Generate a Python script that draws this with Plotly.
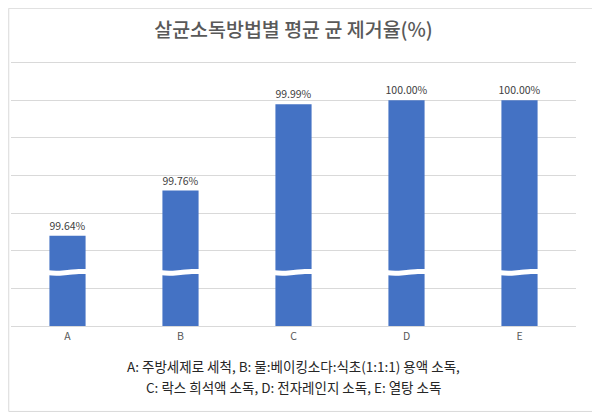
import plotly.graph_objects as go

categories = ['A', 'B', 'C', 'D', 'E']
removal_rate = [99.64, 99.76, 99.99, 100.00, 100.00]
labels = ['99.64%', '99.76%', '99.99%', '100.00%', '100.00%']
title = '살균소독방법별 평균 균 제거율(%)'
note_lines = ['A: 주방세제로 세척, B: 물:베이킹소다:식초(1:1:1) 용액 소독,',
              'C: 락스 희석액 소독, D: 전자레인지 소독, E: 열탕 소독']

font_kr = 'Noto Sans CJK KR'
xs = list(range(len(categories)))
y_min = 99.4

fig = go.Figure()
fig.add_trace(go.Bar(
    x=xs, y=[v - y_min for v in removal_rate], base=y_min, width=0.32,
    marker=dict(color='#4472C4', line=dict(width=0)),
    text=labels, textposition='outside', cliponaxis=False, constraintext='none',
    textfont=dict(size=10.5, color='#404040', family=font_kr),
    showlegend=False, hoverinfo='skip',
))

# broken-axis marks: white wavy strip across each bar
break_y = 99.542
for i in xs:
    fig.add_trace(go.Scatter(
        x=[i - 0.19, i - 0.1, i, i + 0.1, i + 0.19],
        y=[break_y, break_y - 0.002, break_y, break_y + 0.003, break_y + 0.003],
        mode='lines', line=dict(color='white', width=5, shape='spline'),
        showlegend=False, hoverinfo='skip',
    ))

fig.update_layout(
    width=600, height=414,
    margin=dict(l=3, r=32, t=51, b=96, autoexpand=False),
    paper_bgcolor='white', plot_bgcolor='white',
    title=dict(text=title, x=0.5, xanchor='center', xref='paper', y=0.947, yanchor='middle',
               font=dict(size=19.5, color='#595959', family=font_kr, weight=500)),
    xaxis=dict(tickvals=xs, ticktext=categories, range=[-0.5, 4.5],
               showgrid=False, zeroline=False, ticks='',
               showline=True, linecolor='#d9d9d9', linewidth=1,
               tickfont=dict(size=10.5, color='#595959', family=font_kr)),
    yaxis=dict(range=[y_min, 100.11], dtick=0.1, tick0=y_min, showticklabels=False,
               showgrid=True, gridcolor='#d9d9d9', gridwidth=1, zeroline=False),
    font=dict(family=font_kr),
)

for k, line in enumerate(note_lines):
    fig.add_annotation(text=line, xref='paper', yref='paper', x=0.5, y=-0.150 - k * 0.079,
                       xanchor='center', yanchor='middle', showarrow=False,
                       font=dict(size=13.5, color='#262626', family=font_kr))

fig.add_shape(type='rect', xref='paper', yref='paper', x0=-0.004, x1=1.039, y0=-0.32, y1=1.19,
              line=dict(color='#d9d9d9', width=1))

fig.write_html('out.html')
